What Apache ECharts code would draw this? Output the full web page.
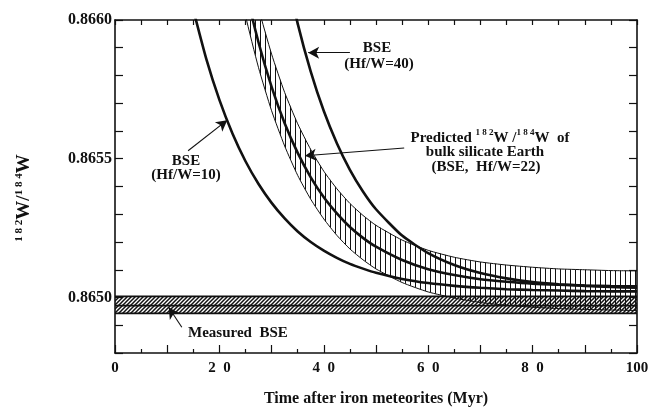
<!DOCTYPE html>
<html>
<head>
<meta charset="utf-8">
<script src="https://cdn.jsdelivr.net/npm/echarts@6/dist/echarts.min.js"></script>
<style>html,body{margin:0;padding:0;background:#fff}#c{width:664px;height:412px}</style>
</head>
<body>
<div id="c"></div>
<script>
// ---- data ----
const times = [15,17.5,20,22.5,25,27.5,30,32.5,35,37.5,40,42.5,45,47.5,50,55,60,65,70,75,80,85,90,95,100];
const bseHf10 = [0.866037,0.865859,0.865712,0.865591,0.865491,0.865409,0.865341,0.865285,0.865238,0.865200,0.865169,0.865143,0.865121,0.865104,0.865089,0.865067,0.865052,0.865042,0.865035,0.865030,0.865027,0.865025,0.865023,0.865022,0.865022];
const bseHf40 = [null,null,null,null,0.867160,0.866775,0.866459,0.866200,0.865987,0.865814,0.865672,0.865556,0.865460,0.865382,0.865318,0.865223,0.865160,0.865117,0.865088,0.865069,0.865056,0.865048,0.865042,0.865038,0.865035];
const bseHf22 = [0.867434,0.867000,0.866644,0.866353,0.866114,0.865919,0.865759,0.865628,0.865521,0.865433,0.865361,0.865303,0.865254,0.865215,0.865183,0.865135,0.865102,0.865081,0.865066,0.865057,0.865050,0.865046,0.865043,0.865041,0.865040];
const bseHf22Lower = [0.867270,0.866860,0.866523,0.866245,0.866016,0.865828,0.865673,0.865546,0.865440,0.865354,0.865283,0.865224,0.865175,0.865136,0.865103,0.865054,0.865020,0.864998,0.864982,0.864972,0.864965,0.864960,0.864957,0.864955,0.864953];
const bseHf22Upper = [0.867583,0.867146,0.866787,0.866490,0.866245,0.866043,0.865877,0.865739,0.865626,0.865533,0.865455,0.865392,0.865339,0.865296,0.865260,0.865207,0.865170,0.865145,0.865128,0.865117,0.865109,0.865103,0.865100,0.865097,0.865096];
const measuredSpan = [0, 100];
const measuredEdges = [0.864943, 0.864971, 0.865004];
const xLabelValues = [0, 20, 40, 60, 80, 100];
const yLabelValues = ['0.8650', '0.8655', '0.8660'];

// ---- patterns ----
function vPattern() {
  const c = document.createElement('canvas'); c.width = 5; c.height = 5;
  const g = c.getContext('2d'); g.fillStyle = '#111'; g.fillRect(0, 0, 1, 5); return c;
}
function dPattern() {
  const c = document.createElement('canvas'); c.width = 4; c.height = 4;
  const g = c.getContext('2d'); g.strokeStyle = '#111'; g.lineWidth = 1.5;
  g.beginPath(); g.moveTo(0, 4); g.lineTo(4, 0); g.moveTo(-1, 1); g.lineTo(1, -1); g.moveTo(3, 5); g.lineTo(5, 3); g.stroke();
  return c;
}
const INK = '#111';
const FONT = '"Liberation Serif", "Times New Roman", serif';
const V_PAT = { image: vPattern(), repeat: 'repeat' };
const D_PAT = { image: dPattern(), repeat: 'repeat' };

const pair = (arr) => times.map((t, i) => [t, arr[i]]);

const chart = echarts.init(document.getElementById('c'), null, { renderer: 'canvas' });

const tickStyle = { color: INK, width: 1.2 };
const axisLineStyle = { color: INK, width: 1.6 };

function renderPredBand(params, api) {
  const pts = [];
  for (let i = 0; i < times.length; i++) pts.push(api.coord([times[i], bseHf22Upper[i]]));
  for (let i = times.length - 1; i >= 0; i--) pts.push(api.coord([times[i], bseHf22Lower[i]]));
  return { type: 'polygon', shape: { points: pts }, style: { fill: V_PAT, stroke: null } };
}
function renderMeasured(params, api) {
  const children = [];
  for (let k = 0; k < measuredEdges.length - 1; k++) {
    const a = api.coord([measuredSpan[0], measuredEdges[k + 1]]);
    const b = api.coord([measuredSpan[1], measuredEdges[k]]);
    children.push({ type: 'rect', shape: { x: a[0], y: a[1], width: b[0] - a[0], height: b[1] - a[1] }, style: { fill: D_PAT, stroke: null } });
  }
  for (let k = 0; k < measuredEdges.length; k++) {
    const a = api.coord([measuredSpan[0], measuredEdges[k]]);
    const b = api.coord([measuredSpan[1], measuredEdges[k]]);
    children.push({ type: 'line', shape: { x1: a[0], y1: a[1], x2: b[0], y2: b[1] }, style: { stroke: INK, lineWidth: 1.8 } });
  }
  return { type: 'group', children };
}

const textStyle = (t, align) => ({ text: t, align: align || 'center', verticalAlign: 'middle', fontSize: 15, fontWeight: 'bold', fontFamily: FONT, fill: INK });

const option = {
  animation: false,
  backgroundColor: '#fff',
  grid: { left: 115, right: 27, top: 20, bottom: 55, containLabel: false },
  xAxis: [
    {
      type: 'value', min: 0, max: 100, interval: 10, position: 'bottom', z: 10,
      axisLine: { show: true, onZero: false, lineStyle: axisLineStyle },
      axisTick: { show: true, inside: true, length: 8, lineStyle: tickStyle },
      minorTick: { show: true, splitNumber: 2, length: 4, lineStyle: tickStyle },
      splitLine: { show: false }, minorSplitLine: { show: false },
      axisLabel: {
        margin: 8, color: INK, fontFamily: FONT, fontWeight: 'bold', fontSize: 15,
        showMinLabel: true, showMaxLabel: true,
        formatter: (v) => {
          const r = Math.round(v);
          if (xLabelValues.indexOf(r) < 0) return '';
          const s = String(r);
          return s.length === 2 ? s.split('').join('\u2002') : s;
        }
      },
      name: 'Time after iron meteorites (Myr)', nameLocation: 'middle', nameGap: 38,
      nameTextStyle: { color: INK, fontFamily: FONT, fontWeight: 'bold', fontSize: 16 }
    },
    {
      type: 'value', min: 0, max: 100, interval: 5, position: 'top', z: 10,
      axisLine: { show: true, onZero: false, lineStyle: axisLineStyle },
      axisTick: { show: true, inside: true, length: 5, lineStyle: tickStyle },
      axisLabel: { show: false }, splitLine: { show: false }
    }
  ],
  yAxis: [
    {
      type: 'value', min: 0.8648, max: 0.8660, interval: 0.0001, position: 'left', z: 10,
      axisLine: { show: true, onZero: false, lineStyle: axisLineStyle },
      axisTick: { show: true, inside: true, length: 8, lineStyle: tickStyle },
      splitLine: { show: false },
      axisLabel: {
        margin: 3, color: INK, fontFamily: FONT, fontWeight: 'bold', fontSize: 16,
        formatter: (v) => { const s = v.toFixed(4); return yLabelValues.indexOf(s) >= 0 ? s : ''; }
      }
    },
    {
      type: 'value', min: 0.8648, max: 0.8660, interval: 0.0001, position: 'right', z: 10,
      axisLine: { show: true, onZero: false, lineStyle: axisLineStyle },
      axisTick: { show: true, inside: true, length: 8, lineStyle: tickStyle },
      axisLabel: { show: false }, splitLine: { show: false }
    }
  ],
  series: [
    { type: 'custom', silent: true, clip: true, data: [[50, 0.86497]], renderItem: renderMeasured },
    { type: 'custom', silent: true, clip: true, data: [[50, 0.8653]], renderItem: renderPredBand },
    { type: 'line', symbol: 'none', smooth: 0.2, silent: true,
      data: pair(bseHf22Lower), lineStyle: { color: INK, width: 1 } },
    { type: 'line', symbol: 'none', smooth: 0.2, silent: true,
      data: pair(bseHf22Upper), lineStyle: { color: INK, width: 1 } },
    { type: 'line', symbol: 'none', smooth: 0.2, silent: true,
      data: pair(bseHf22), lineStyle: { color: INK, width: 2.6 } },
    { type: 'line', symbol: 'none', smooth: 0.2, silent: true,
      data: pair(bseHf10), lineStyle: { color: INK, width: 2.6 } },
    { type: 'line', symbol: 'none', smooth: 0.2, silent: true, connectNulls: false,
      data: pair(bseHf40), lineStyle: { color: INK, width: 2.6 },
      markLine: {
        silent: true, symbol: ['none', 'arrow'], symbolSize: [9, 11], animation: false,
        label: { show: false },
        lineStyle: { color: INK, width: 1.1, type: 'solid' },
        data: [
          [{ coord: [45.0, 0.865882] }, { coord: [37.0, 0.865882] }],
          [{ coord: [14.0, 0.865529] }, { coord: [21.5, 0.865639] }],
          [{ coord: [55.4, 0.865539] }, { coord: [36.4, 0.865511] }],
          [{ coord: [12.8, 0.864893] }, { coord: [10.3, 0.864964] }]
        ]
      } }
  ],
  graphic: [
    { type: 'text', silent: true, x: 24, y: 198, rotation: Math.PI / 2,
      style: {
        text: '{s|1 8 2}{w|W/}{s|1 8 4}{w|W}', align: 'center', verticalAlign: 'middle',
        rich: {
          s: { fontSize: 11, fontWeight: 'bold', fontFamily: FONT, fill: INK, verticalAlign: 'top', lineHeight: 20 },
          w: { fontSize: 19, fontWeight: 'bold', fontFamily: FONT, fill: INK, verticalAlign: 'bottom', lineHeight: 20 }
        }
      } },
    { type: 'text', silent: true, x: 377, y: 48, style: textStyle('BSE') },
    { type: 'text', silent: true, x: 379, y: 64, style: textStyle('(Hf/W=40)') },
    { type: 'text', silent: true, x: 186, y: 161, style: textStyle('BSE') },
    { type: 'text', silent: true, x: 186, y: 175, style: textStyle('(Hf/W=10)') },
    { type: 'text', silent: true, x: 490, y: 137,
      style: {
        text: '{t|Predicted }{s|1 8 2}{t|W /}{s|1 8 4}{t|W  of}', align: 'center', verticalAlign: 'middle',
        rich: {
          t: { fontSize: 15, fontWeight: 'bold', fontFamily: FONT, fill: INK, verticalAlign: 'bottom', lineHeight: 17 },
          s: { fontSize: 9, fontWeight: 'bold', fontFamily: FONT, fill: INK, verticalAlign: 'top', lineHeight: 17 }
        }
      } },
    { type: 'text', silent: true, x: 485, y: 152, style: textStyle('bulk silicate Earth') },
    { type: 'text', silent: true, x: 486, y: 167, style: textStyle('(BSE,  Hf/W=22)') },
    { type: 'text', silent: true, x: 188, y: 333, style: textStyle('Measured  BSE', 'left') }
  ]
};
chart.setOption(option);
</script>
</body>
</html>
